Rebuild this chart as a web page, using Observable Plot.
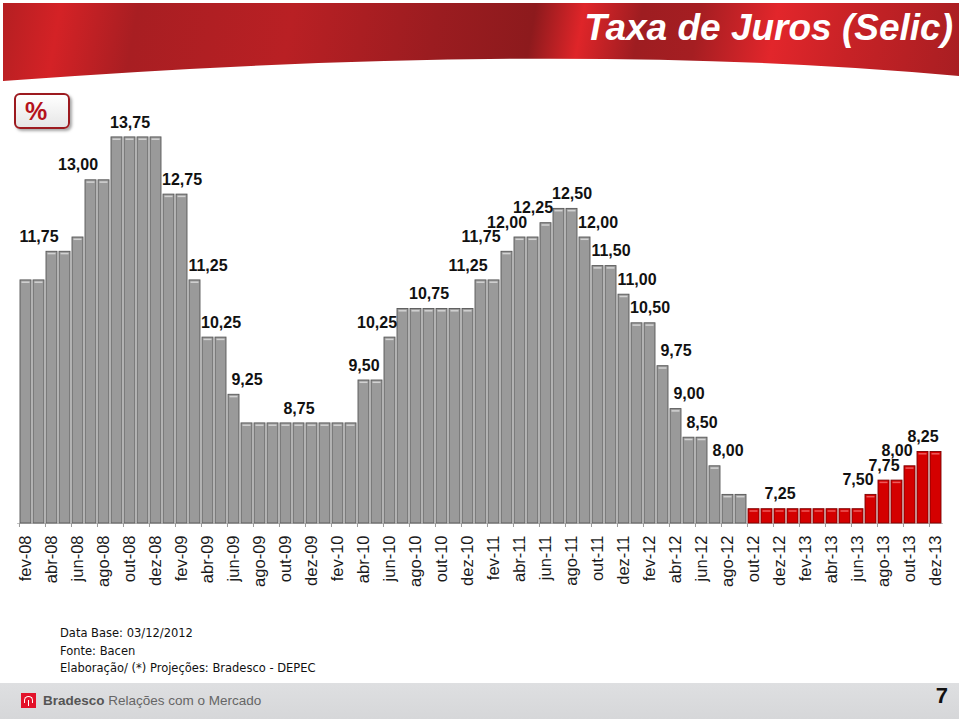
<!DOCTYPE html>
<html><head><meta charset="utf-8">
<script src="https://cdn.jsdelivr.net/npm/d3@7"></script>
<script src="https://cdn.jsdelivr.net/npm/@observablehq/plot@0.6"></script>
<style>
body{margin:0;background:#fff;font-family:"Liberation Sans",Arial,sans-serif;}
#page{position:relative;width:959px;height:721px;overflow:hidden;background:#fff;}
#header{position:absolute;left:3px;top:3px;width:956px;height:80px;
 background:linear-gradient(100deg,#b51f22 0%,#d42226 6%,#a81e22 14%,#b92024 30%,#9b1c20 45%,#8d1a1d 55%,#df2529 60%,#9e1d21 66%,#a51e22 72%,#e2262b 80%,#c72226 88%,#a81e22 100%);
 clip-path:path('M0,0 H956 V73 Q557,36 0,78 Z');}
#title{position:absolute;right:6px;top:9px;color:#fff;font:italic bold 37px "Liberation Sans",Arial,sans-serif;line-height:37px;white-space:nowrap;}
#pct{position:absolute;left:14px;top:93px;width:52px;height:32px;border:2px solid #9c1a1f;border-radius:6px;
 background:linear-gradient(#ffffff,#e6e6e6);box-shadow:2px 2px 3px rgba(0,0,0,0.35);}
#pct span{position:absolute;left:9px;top:2px;font:bold 25px "Liberation Sans",Arial,sans-serif;color:#b5121b;line-height:28px;}
#chart{position:absolute;left:0;top:80px;}
#notes{position:absolute;left:60px;top:625px;font:11.5px "DejaVu Sans",sans-serif;color:#111;line-height:17.5px;}
#footer{position:absolute;left:0;top:683px;width:959px;height:36px;background:linear-gradient(#dedfe1,#d6d7d9);}
#logo{position:absolute;left:21px;top:10px;width:15px;height:15px;background:#e3122a;}
#logo i{position:absolute;left:3px;top:3px;width:7px;height:6px;border:1.5px solid #fff;border-bottom:none;border-radius:5px 5px 0 0;}
#logo b{position:absolute;left:6.5px;top:7px;width:1.5px;height:6px;background:#fff;}
#ftext{position:absolute;left:43px;top:0;line-height:36px;font-size:13.5px;color:#666;white-space:nowrap;}
#ftext strong{color:#555;}
#pageno{position:absolute;right:11px;top:0;line-height:36px;font:bold 22px "Liberation Sans",Arial,sans-serif;color:#111;}
</style></head>
<body>
<div id="page">
  <div id="header"></div>
  <div id="title">Taxa de Juros (Selic)</div>
  <div id="chart"></div>
  <div id="pct"><span>%</span></div>
  <div id="notes">Data Base: 03/12/2012<br>Fonte: Bacen<br>Elaboração/ (*) Projeções: Bradesco - DEPEC</div>
  <div id="footer"><div id="logo"><i></i><b></b></div><div id="ftext"><strong>Bradesco</strong> Relações com o Mercado</div><div id="pageno">7</div></div>
</div>
<script>
const months = [
  "fev-08","mar-08","abr-08","mai-08","jun-08","jul-08","ago-08","set-08","out-08","nov-08","dez-08",
  "jan-09","fev-09","mar-09","abr-09","mai-09","jun-09","jul-09","ago-09","set-09","out-09","nov-09","dez-09",
  "jan-10","fev-10","mar-10","abr-10","mai-10","jun-10","jul-10","ago-10","set-10","out-10","nov-10","dez-10",
  "jan-11","fev-11","mar-11","abr-11","mai-11","jun-11","jul-11","ago-11","set-11","out-11","nov-11","dez-11",
  "jan-12","fev-12","mar-12","abr-12","mai-12","jun-12","jul-12","ago-12","set-12","out-12","nov-12","dez-12",
  "jan-13","fev-13","mar-13","abr-13","mai-13","jun-13","jul-13","ago-13","set-13","out-13","nov-13","dez-13"
];
const selic = [
  11.25,11.25,11.75,11.75,12.00,13.00,13.00,13.75,13.75,13.75,13.75,
  12.75,12.75,11.25,10.25,10.25,9.25,8.75,8.75,8.75,8.75,8.75,8.75,
  8.75,8.75,8.75,9.50,9.50,10.25,10.75,10.75,10.75,10.75,10.75,10.75,
  11.25,11.25,11.75,12.00,12.00,12.25,12.50,12.50,12.00,11.50,11.50,11.00,
  10.50,10.50,9.75,9.00,8.50,8.50,8.00,7.50,7.50,7.25,7.25,7.25,
  7.25,7.25,7.25,7.25,7.25,7.25,7.50,7.75,7.75,8.00,8.25,8.25
];
const firstProjection = "out-12";
const tickLabels = ["fev-08","abr-08","jun-08","ago-08","out-08","dez-08","fev-09","abr-09","jun-09","ago-09","out-09","dez-09",
  "fev-10","abr-10","jun-10","ago-10","out-10","dez-10","fev-11","abr-11","jun-11","ago-11","out-11","dez-11",
  "fev-12","abr-12","jun-12","ago-12","out-12","dez-12","fev-13","abr-13","jun-13","ago-13","out-13","dez-13"];
const labelMonths = ["mar-08","jun-08","out-08","fev-09","abr-09","mai-09","jul-09","nov-09","abr-10","mai-10","set-10",
  "dez-10","jan-11","mar-11","mai-11","ago-11","out-11","nov-11","jan-12","fev-12","abr-12","mai-12","jun-12","ago-12",
  "dez-12","jun-13","ago-13","set-13","nov-13"];
const labelValues = [11.75,13.00,13.75,12.75,11.25,10.25,9.25,8.75,9.50,10.25,10.75,
  11.25,11.75,12.00,12.25,12.50,12.00,11.50,11.00,10.50,9.75,9.00,8.50,8.00,
  7.25,7.50,7.75,8.00,8.25];

const W = 959, H = 540, mL = 17, mR = 16, mT = 14, mB = 97;
const projStart = months.indexOf(firstProjection);
const data = months.map((m, i) => ({month: m, value: selic[i], proj: i >= projStart}));
const labels = labelMonths.map((m, i) => ({month: m, value: labelValues[i]}));
const step = (W - mL - mR) / months.length;
const fmt = v => v.toFixed(2).replace(".", ",");

const chart = Plot.plot({
  width: W, height: H,
  marginLeft: mL, marginRight: mR, marginTop: mT, marginBottom: mB,
  x: {domain: months, padding: 0.18, paddingOuter: 0.09, axis: null},
  y: {domain: [7, 14.5], axis: null},
  style: {fontFamily: "'Liberation Sans', Arial, sans-serif", background: "transparent", overflow: "visible"},
  marks: [
    Plot.ruleY([7], {stroke: "#c4c4c4"}),
    Plot.barY(data, {x: "month", y1: 7, y2: "value",
      fill: d => d.proj ? "#d40000" : "#9a9a9a",
      stroke: d => d.proj ? "#7d0000" : "#575757", strokeWidth: 0.9}),
    Plot.tickY(data, {x: "month", y: "value",
      stroke: d => d.proj ? "#ee5a5a" : "#d2d2d2", strokeWidth: 1.5, dy: 1.8, inset: 1.5}),
    Plot.ruleX(months.filter((m, i) => i % 2 === 0), {x: d => d, y1: 7, y2: 6.93, dx: -step / 2, stroke: "#9a9a9a"}),
    Plot.axisX(tickLabels, {tickSize: 0, tickRotate: -90, tickPadding: 12, fontSize: 16.5, fill: "#1a1a1a", label: null}),
    Plot.text(labels, {x: "month", y: "value", text: d => fmt(d.value), dy: -15,
      fontWeight: "bold", fontSize: 16, fill: "#111"})
  ]
});
document.getElementById("chart").appendChild(chart);
</script>
</body></html>
